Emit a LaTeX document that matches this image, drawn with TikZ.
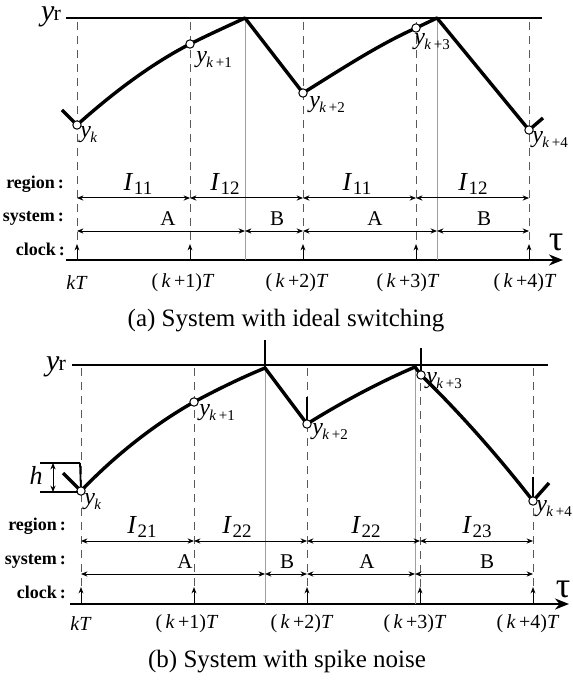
\documentclass[tikz,border=0pt]{standalone}
\usepackage{fontspec}
\setmainfont{Liberation Serif}
\usetikzlibrary{arrows.meta}
\tikzset{
  every picture/.style={line join=round, >=Stealth},
  traj/.style={line width=1.7pt},
  ref/.style={line width=0.8pt},
  axis/.style={line width=1pt, -{Stealth[length=7pt,width=5.5pt]}},
  grid/.style={line width=0.45pt, gray!70!black, dash pattern=on 4pt off 3pt},
  switch/.style={line width=0.5pt, gray!75},
  span/.style={line width=0.5pt, {Stealth[length=3.2pt,width=2.6pt]}-{Stealth[length=3.2pt,width=2.6pt]}},
  clock/.style={line width=0.5pt, -{Stealth[length=3.2pt,width=2.4pt]}},
  spike/.style={line width=0.9pt},
  sample/.style={circle, draw, fill=white, line width=0.5pt, inner sep=0pt, minimum size=4.2pt},
  rowlab/.style={anchor=east, font=\bfseries\fontsize{9}{10}\selectfont},
  ylab/.style={anchor=west, inner sep=0pt, font=\fontsize{12}{12}\selectfont},
  ilab/.style={font=\fontsize{13}{13}\selectfont},
  slab/.style={font=\fontsize{10.5}{11}\selectfont},
  tlab/.style={font=\fontsize{10}{11}\selectfont},
  caption/.style={font=\fontsize{12.5}{14}\selectfont},
  yrlab/.style={anchor=base, inner sep=0pt},
}
\newcommand{\ysub}[1]{\textit{y}\kern-0.3pt\raisebox{-0.45ex}{\fontsize{7.5}{8}\selectfont #1}}
\newcommand{\Isub}[1]{\textit{I}\kern0.3pt\raisebox{-0.35ex}{\fontsize{9.5}{10}\selectfont #1}}
\newcommand{\yref}{\fontsize{15}{15}\selectfont\textit{y}\kern-0.5pt{\fontsize{11}{11}\selectfont r}}
\newcommand{\kk}[1]{(\,\textit{k}\,+#1)\textit{T}}

\begin{document}
\begin{tikzpicture}[x=0.5pt,y=-0.5pt]
\useasboundingbox (0,0) rectangle (572,684);

%% (a) ideal switching
\node[yrlab] (yra) at (51,21) {\yref};
\coordinate (ra0) at (66,18);
\coordinate (ra1) at (542,18);
\draw[ref] (ra0) -- (ra1);
\coordinate (xa0) at (66,260);
\coordinate (xa1) at (563,260);
\draw[axis] (xa0) -- (xa1);
\node[font=\fontsize{18}{18}\selectfont] (taua) at (556,242) {τ};

\foreach \n/\x in {0/77,1/190,2/303,3/416,4/529}{
  \coordinate (ga\n) at (\x,22);
  \coordinate (ta\n) at (\x,260);
  \coordinate (ca\n) at (\x,244);
  \draw[grid] (ga\n) -- (ta\n);
  \draw[clock] (ta\n) -- (ca\n);
}
\foreach \n/\x in {1/245,2/437}{
  \coordinate (ka\n) at (\x,18);
  \coordinate (sa\n) at (\x,260);
  \draw[switch] (ka\n) -- (sa\n);
}

% trajectory
\coordinate (pa0) at (77,125);
\coordinate (pa1) at (190,44);
\coordinate (pa2) at (303,93);
\coordinate (pa3) at (416,28);
\coordinate (pa4) at (529,130);
\coordinate (ea0) at (62,110);
\coordinate (ea1) at (543,118);
\draw[traj] (ea0) -- (pa0) .. controls (115,91) and (153,63) .. (pa1)
  .. controls (210,34) and (228,26) .. (ka1) -- (pa2)
  .. controls (340,70) and (378,45) .. (pa3) -- (ka2) -- (pa4) -- (ea1);
\foreach \n in {0,...,4} \node[sample] (ya\n) at (pa\n) {};
\node[ylab] (lya0) at (80,135) {\ysub{\textit{k}}};
\node[ylab] (lya1) at (196,60) {\ysub{\textit{k}\,+1}};
\node[ylab] (lya2) at (309,105) {\ysub{\textit{k}\,+2}};
\node[ylab] (lya3) at (414,42) {\ysub{\textit{k}\,+3}};
\node[ylab] (lya4) at (532,140) {\ysub{\textit{k}\,+4}};

% rows
\node[rowlab] (rega) at (71,184) {region\,:};
\node[rowlab] (sysa) at (71,218) {system\,:};
\node[rowlab] (clka) at (72,249) {clock\,:};
\foreach \a/\b/\lx/\t in {77/190/138/11,190/303/225/12,303/416/357/11,416/529/473/12}{
  \coordinate (r0) at (\a,198);
  \coordinate (r1) at (\b,198);
  \draw[span] (r0) -- (r1);
  \node[ilab] at (\lx,184) {\Isub{\t}};
}
\foreach \a/\b/\lx/\t in {77/245/168/A,245/303/277/B,303/437/375/A,437/529/484/B}{
  \coordinate (s0) at (\a,231);
  \coordinate (s1) at (\b,231);
  \draw[span] (s0) -- (s1);
  \node[slab] at (\lx,219) {\t};
}
\node[tlab] (kta0) at (77,283) {\textit{kT}};
\foreach \n/\x in {1/183,2/297,3/408,4/525}
  \node[tlab] (kta\n) at (\x,283) {\kk{\n}};
\node[caption] (capa) at (286,321) {(a) System with ideal switching};

%% (b) spike noise
\node[yrlab] (yrb) at (56,370) {\yref};
\coordinate (rb0) at (72,365);
\coordinate (rb1) at (548,365);
\draw[ref] (rb0) -- (rb1);
\coordinate (xb0) at (70,604);
\coordinate (xb1) at (569,604);
\draw[axis] (xb0) -- (xb1);
\node[font=\fontsize{18}{18}\selectfont, inner sep=0pt] (taub) at (563,589) {τ};

\foreach \n/\x/\top in {0/81/368,1/194/368,2/307/368,3/420/383,4/533/368}{
  \coordinate (gb\n) at (\x,\top);
  \coordinate (tb\n) at (\x,604);
  \coordinate (cb\n) at (\x,587);
  \draw[grid] (gb\n) -- (tb\n);
  \draw[clock] (tb\n) -- (cb\n);
}
\foreach \n/\x/\y in {1/265/368,2/415/367}{
  \coordinate (kb\n) at (\x,\y);
  \coordinate (sb\n) at (\x,604);
  \draw[switch] (kb\n) -- (sb\n);
}

% trajectory
\coordinate (pb0) at (81,491);
\coordinate (pb1) at (194,402);
\coordinate (pb2) at (307,424);
\coordinate (pb3) at (421,375);
\coordinate (pb4) at (533,501);
\coordinate (eb0) at (63,473);
\coordinate (eb1) at (549,483);
\draw[traj] (eb0) -- (pb0) .. controls (118,452) and (160,421) .. (pb1)
  .. controls (218,389) and (243,377) .. (kb1) -- (pb2)
  .. controls (342,402) and (382,381) .. (kb2) -- (pb3)
  .. controls (455,408) and (495,452) .. (pb4) -- (eb1);
% spikes
\foreach \n/\x/\y in {0/80/463,1/265/340,2/307/397,3/421/348,4/533/477}{
  \coordinate (hb\n) at (\x,\y);
}
\draw[spike] (hb0) -- (pb0);
\draw[spike] (hb1) -- (kb1);
\draw[spike] (hb2) -- (pb2);
\draw[spike] (hb3) -- (pb3);
\draw[spike] (hb4) -- (pb4);
\foreach \n in {0,...,4} \node[sample] (yb\n) at (pb\n) {};
% spike height
\coordinate (h0) at (40,463);
\coordinate (h1) at (40,492);
\coordinate (h2) at (78,492);
\coordinate (ha) at (53,463);
\coordinate (hc) at (53,492);
\draw[line width=0.6pt] (h0) -- (hb0);
\draw[line width=0.6pt] (h1) -- (h2);
\draw[span] (ha) -- (hc);
\node[font=\fontsize{13}{13}\selectfont\itshape] (hlab) at (36,475) {h};
\node[ylab] (lyb0) at (84,502) {\ysub{\textit{k}}};
\node[ylab] (lyb1) at (199,413) {\ysub{\textit{k}\,+1}};
\node[ylab] (lyb2) at (312,432) {\ysub{\textit{k}\,+2}};
\node[ylab] (lyb3) at (426,381) {\ysub{\textit{k}\,+3}};
\node[ylab] (lyb4) at (536,509) {\ysub{\textit{k}\,+4}};

% rows
\node[rowlab] (regb) at (73,526) {region\,:};
\node[rowlab] (sysb) at (73,561) {system\,:};
\node[rowlab] (clkb) at (73,592) {clock\,:};
\foreach \a/\b/\lx/\t in {81/194/142/21,194/307/237/22,307/420/366/22,420/533/477/23}{
  \coordinate (r0) at (\a,541);
  \coordinate (r1) at (\b,541);
  \draw[span] (r0) -- (r1);
  \node[ilab] at (\lx,527) {\Isub{\t}};
}
\foreach \a/\b/\lx/\t in {81/265/185/A,265/307/287/B,307/415/367/A,415/533/487/B}{
  \coordinate (s0) at (\a,574);
  \coordinate (s1) at (\b,574);
  \draw[span] (s0) -- (s1);
  \node[slab] at (\lx,562) {\t};
}
\node[tlab] (ktb0) at (81,624) {\textit{kT}};
\foreach \n/\x in {1/187,2/302,3/415,4/528}
  \node[tlab] (ktb\n) at (\x,624) {\kk{\n}};
\node[caption] (capb) at (287,662) {(b) System with spike noise};
\end{tikzpicture}
\end{document}
